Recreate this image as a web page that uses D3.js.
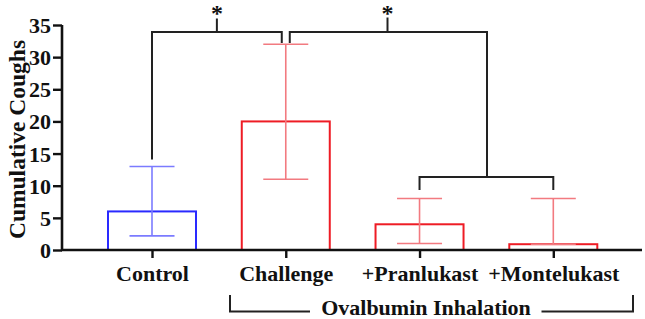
<!DOCTYPE html>
<html><head><meta charset="utf-8">
<script src="https://cdn.jsdelivr.net/npm/d3@7"></script>
<style>body{margin:0;background:#fff}svg{display:block}text{font-family:"Liberation Serif","Times New Roman",serif;font-weight:bold;fill:#111}</style>
</head><body><div id="chart"></div>
<script>
const categories = ["Control", "Challenge", "+Pranlukast", "+Montelukast"];
const means = [6, 20, 4, 0.9];
const upper = [13, 32, 8, 8];
const lower = [2.2, 11, 1, 0.9];
const barColors = ["#2a2aff", "#ee1c25", "#ee1c25", "#ee1c25"];
const errColors = ["#7b7bff", "#f27a80", "#f27a80", "#f27a80"];
const yTicks = [0, 5, 10, 15, 20, 25, 30, 35];
const yLabel = "Cumulative Coughs";
const groupLabel = "Ovalbumin Inhalation";

const W = 645, H = 319;
const svg = d3.select("#chart").append("svg").attr("width", W).attr("height", H);

const x = d3.scalePoint().domain(categories).range([152, 553.3]);
const y = d3.scaleLinear().domain([0, 35]).range([250, 25]);
const barW = 88, capW = 45;

// bars
svg.selectAll("rect.bar").data(categories).enter().append("rect")
  .attr("x", d => x(d) - barW / 2)
  .attr("y", (d, i) => y(means[i]))
  .attr("width", barW)
  .attr("height", (d, i) => y(0) - y(means[i]))
  .attr("fill", "none")
  .attr("stroke", (d, i) => barColors[i])
  .attr("stroke-width", 2);

// error bars
const eb = svg.selectAll("g.err").data(categories).enter().append("g")
  .attr("stroke", (d, i) => errColors[i]).attr("stroke-width", 1.6);
eb.append("line").attr("x1", d => x(d)).attr("x2", d => x(d))
  .attr("y1", (d, i) => y(upper[i])).attr("y2", (d, i) => y(lower[i]));
eb.append("line").attr("x1", d => x(d) - capW / 2).attr("x2", d => x(d) + capW / 2)
  .attr("y1", (d, i) => y(upper[i])).attr("y2", (d, i) => y(upper[i]));
eb.append("line").attr("x1", d => x(d) - capW / 2).attr("x2", d => x(d) + capW / 2)
  .attr("y1", (d, i) => y(lower[i])).attr("y2", (d, i) => y(lower[i]));

// y axis
const yAxis = svg.append("g").attr("transform", "translate(62,0)")
  .call(d3.axisLeft(y).tickValues(yTicks).tickSize(9).tickPadding(2));
yAxis.select(".domain").attr("stroke", "#111").attr("stroke-width", 2.6).attr("d", `M0,${y(35)}V${y(0)}`);
yAxis.selectAll(".tick line").attr("stroke", "#111").attr("stroke-width", 2.4);
yAxis.selectAll(".tick text").style("font-size", "22px").attr("dy", "0.34em");

// x axis
const xAxis = svg.append("g").attr("transform", `translate(0,${y(0)})`)
  .call(d3.axisBottom(x).tickSize(8).tickPadding(8));
xAxis.select(".domain").attr("stroke", "#111").attr("stroke-width", 2.6).attr("d", "M61,0H642");
xAxis.selectAll(".tick line").attr("stroke", "#111").attr("stroke-width", 2.4);
xAxis.selectAll(".tick text").style("font-size", "22px").attr("dy", "0.7em");

// y label
svg.append("text").attr("transform", `translate(25,${(y(0) + y(35)) / 2 + 2}) rotate(-90)`)
  .attr("text-anchor", "middle").style("font-size", "23.5px").text(yLabel);

// significance brackets
const g = svg.append("g").attr("fill", "none").attr("stroke", "#222").attr("stroke-width", 2);
const topY = 32;
const xc = x("Control"), xch = x("Challenge"), xp = x("+Pranlukast"), xm = x("+Montelukast");
g.append("path").attr("d", `M${xc},${y(13) - 7}V${topY}H${xch - 4}V${43}`);
g.append("path").attr("d", `M${xch + 4},43V${topY}H${487}V${177}`);
g.append("path").attr("d", `M${(xc + xch - 4) / 2},${topY}V18.5`);
g.append("path").attr("d", `M387.5,${topY}V17.5`);
g.append("path").attr("d", `M${xp},190V177H${xm}V190`);
svg.append("text").attr("x", (xc + xch - 4) / 2).attr("y", 21).attr("text-anchor", "middle").style("font-size", "24px").text("*");
svg.append("text").attr("x", 387.5).attr("y", 21).attr("text-anchor", "middle").style("font-size", "24px").text("*");

// group bracket
g.append("path").attr("d", "M230,295V311.5H310");
g.append("path").attr("d", "M541.5,311.5H633V295");
svg.append("text").attr("x", 426).attr("y", 315).attr("text-anchor", "middle").style("font-size", "22px").text(groupLabel);
</script></body></html>
